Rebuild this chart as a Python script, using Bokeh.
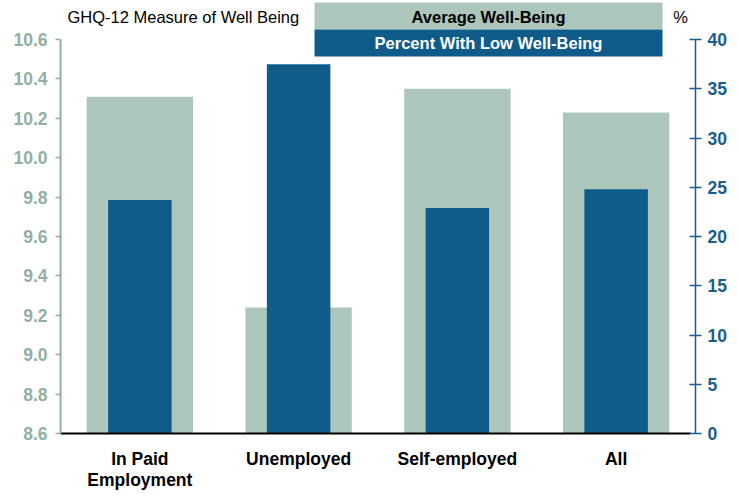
from bokeh.plotting import figure
from bokeh.models import (FactorRange, Range1d, LinearAxis, FixedTicker,
                          PrintfTickFormatter, ColumnDataSource)
from bokeh.core.properties import value
from bokeh.embed import file_html
from bokeh.resources import INLINE

# ---- data ----
categories = ["In Paid\nEmployment", "Unemployed", "Self-employed", "All"]
avg_wellbeing = [10.31, 9.24, 10.35, 10.23]          # left axis (GHQ-12)
pct_low_wellbeing = [23.7, 37.5, 22.9, 24.8]         # right axis (%)
left_ticks = [8.6, 8.8, 9.0, 9.2, 9.4, 9.6, 9.8, 10.0, 10.2, 10.4, 10.6]
right_ticks = [0, 5, 10, 15, 20, 25, 30, 35, 40]
title_text = "GHQ-12 Measure of Well Being"
legend_labels = ["Average Well-Being", "Percent With Low Well-Being"]
unit_text = "%"

LIGHT = "#adc6bc"
DARK = "#0f5c8b"
LEFT_COL = "#8fb0a2"
RIGHT_COL = "#1a5e8c"
FONT = "Liberation Sans"

W, H = 730, 490
ML, MR = 60, 35
FW = W - ML - MR
Y_TOP_PX, Y_BOT_PX = 39, 433         # pixel rows of top/bottom ticks in canvas
lo, hi = left_ticks[0], left_ticks[-1]
ppu = (Y_BOT_PX - Y_TOP_PX) / (hi - lo)
y_start = lo - (H - Y_BOT_PX) / ppu
y_end = hi + Y_TOP_PX / ppu
rlo, rhi = right_ticks[0], right_ticks[-1]
rppu = (Y_BOT_PX - Y_TOP_PX) / (rhi - rlo)
r_start = rlo - (H - Y_BOT_PX) / rppu
r_end = rhi + Y_TOP_PX / rppu


def sx(x_canvas):
    """canvas pixel column -> categorical synthetic coordinate"""
    return (x_canvas - ML) * len(categories) / FW


p = figure(width=W, height=H, output_backend="svg", toolbar_location=None,
           x_range=FactorRange(*categories, range_padding=0),
           y_range=Range1d(y_start, y_end), x_axis_location=None,
           min_border_left=ML, min_border_right=MR, min_border_top=0,
           min_border_bottom=0, outline_line_color=None,
           background_fill_color="white", border_fill_color="white")
p.extra_y_ranges = {"pct": Range1d(r_start, r_end), "py": Range1d(H, 0)}
p.xgrid.visible = False
p.ygrid.visible = False

src = ColumnDataSource(dict(cat=categories, avg=avg_wellbeing, pct=pct_low_wellbeing))
p.vbar(x="cat", top="avg", bottom=lo, width=0.67, source=src,
       fill_color=LIGHT, line_color=None)
p.vbar(x="cat", top="pct", bottom=rlo, width=0.40, source=src,
       fill_color=DARK, line_color=None, y_range_name="pct")

# baseline
p.segment(x0=[sx(ML)], x1=[sx(W - MR - 5)], y0=[lo], y1=[lo],
          line_color="black", line_width=2)

# left axis
ya = p.yaxis[0]
ya.bounds = (lo, hi)
ya.ticker = FixedTicker(ticks=left_ticks)
ya.formatter = PrintfTickFormatter(format="%.1f")
ya.axis_line_color = LEFT_COL
ya.axis_line_width = 2
ya.major_tick_line_color = LEFT_COL
ya.major_tick_line_width = 1.5
ya.major_tick_out = 5
ya.major_tick_in = 0
ya.minor_tick_line_color = None
ya.major_label_text_color = LEFT_COL
ya.major_label_text_font = FONT
ya.major_label_text_font_style = "bold"
ya.major_label_text_font_size = "17.5px"
ya.major_label_standoff = 8

# right axis
ra = LinearAxis(y_range_name="pct", bounds=(rlo, rhi),
                ticker=FixedTicker(ticks=right_ticks))
ra.axis_line_color = RIGHT_COL
ra.axis_line_width = 1.5
ra.major_tick_line_color = RIGHT_COL
ra.major_tick_line_width = 1.5
ra.major_tick_out = 6
ra.major_tick_in = 6
ra.minor_tick_line_color = None
ra.major_label_text_color = RIGHT_COL
ra.major_label_text_font = FONT
ra.major_label_text_font_style = "bold"
ra.major_label_text_font_size = "17.5px"
ra.major_label_standoff = 6
p.add_layout(ra, "right")

# category labels
line1 = [c.split("\n")[0] for c in categories]
line2 = [c.split("\n")[1] if "\n" in c else "" for c in categories]
for lines, yy in ((line1, 458), (line2, 479)):
    p.text(x=categories, y=[yy] * len(categories), text=lines, y_range_name="py",
           text_font=value(FONT), text_font_style="bold", text_font_size="17.5px",
           text_align="center", text_baseline="middle", text_color="black")

# legend boxes
p.quad(left=[sx(314)] * 2, right=[sx(662)] * 2, top=[2, 29], bottom=[29, 56],
       fill_color=[LIGHT, DARK], line_color=None, y_range_name="py")
p.text(x=[sx(488)] * 2, y=[16, 42], text=legend_labels,
       y_range_name="py", text_font=value(FONT), text_font_style="bold",
       text_font_size="16.5px", text_align="center", text_baseline="middle",
       text_color=["black", "white"])
p.text(x=[sx(67)], y=[16], text=[title_text], y_range_name="py",
       text_font=value(FONT), text_font_size="16.5px", text_align="left",
       text_baseline="middle", text_color="black")
p.text(x=[sx(680)], y=[16], text=[unit_text], y_range_name="py",
       text_font=value(FONT), text_font_size="16.5px", text_align="center",
       text_baseline="middle", text_color="black")

open("out.html", "w").write(file_html(p, INLINE))
